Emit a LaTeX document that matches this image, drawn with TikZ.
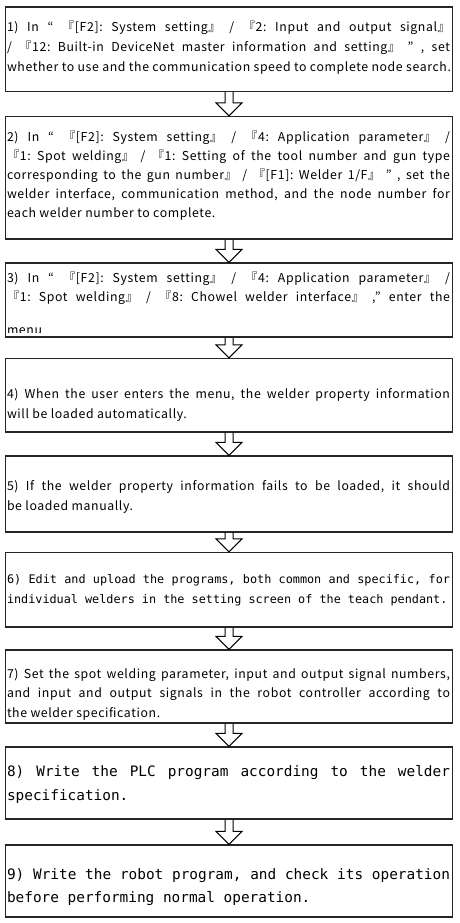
\documentclass[tikz,border=0pt]{standalone}
\usepackage{fontspec}
\usetikzlibrary{calc}
\newfontfamily\gul{Noto Sans CJK KR}[LetterSpace=5]
\newfontfamily\gulche{DejaVu Sans Mono}
\newcommand\J[1]{\hbox to 443pt{#1}}
\newcommand\R[1]{\hbox{#1}}
\newcommand\txtblock[3]{\parbox[t]{443pt}{#1\baselineskip=#2\relax\lineskiplimit=-20pt\relax\spaceskip=\fontdimen2\font plus 1fil\relax\frenchspacing #3}}
\newcommand\propfont{\gul\fontsize{12.3}{20}\selectfont}
\newcommand\monosmall{\gulche\fontsize{11.8}{20}\selectfont}
\newcommand\monobig{\gulche\fontsize{14.4}{24}\selectfont}
\tikzset{
  box/.style={draw=black!85, line width=1.3pt, rectangle, inner sep=0pt, minimum width=447pt},
  txt/.style={anchor=base west, inner sep=0pt, outer sep=0pt, text=black},
  blk/.style={draw=black, line width=1pt, line join=miter}
}
\newcommand\blockarrow[2]{\draw[blk] ($(#1.south)+(-4,0)$) -- ($(#2.north)+(-4,-13)$) -- ($(#2.north)+(-13,-13)$) -- (#2.north) -- ($(#2.north)+(13,-13)$) -- ($(#2.north)+(4,-13)$) -- ($(#1.south)+(4,0)$);}
\begin{document}
\begin{tikzpicture}[x=1pt,y=-1pt]
\useasboundingbox (0,0) rectangle (459,923);
\fill[white] (0,0) rectangle (459,923);
% boxes
\node[box, minimum height=84.5pt]  (b1) at (229,49.25) {};
\node[box, minimum height=122.5pt] (b2) at (229,177.75) {};
\node[box, minimum height=74pt]    (b3) at (229,300) {};
\node[box, minimum height=73.5pt]  (b4) at (229,395.25) {};
\node[box, minimum height=76pt]    (b5) at (229,494) {};
\node[box, minimum height=74.5pt]  (b6) at (229,589.75) {};
\node[box, minimum height=73pt]    (b7) at (229,686.5) {};
\node[box, minimum height=72pt]    (b8) at (229,783) {};
\node[box, minimum height=72pt]    (b9) at (229,881) {};
% texts
\node[txt] (t1) at (7,31.5) {\txtblock{\propfont}{20pt}{%
\J{1) In “ 『[F2]: System setting』 / 『2: Input and output signal』}%
\J{/ 『12: Built-in DeviceNet master information and setting』 ” , set}%
\J{whether to use and the communication speed to complete node search.}}};
\node[txt] (t2) at (7,142) {\txtblock{\propfont}{19pt}{%
\J{2) In “ 『[F2]: System setting』 / 『4: Application parameter』 /}%
\J{『1: Spot welding』 / 『1: Setting of the tool number and gun type}%
\J{corresponding to the gun number』 / 『[F1]: Welder 1/F』 ” , set the}%
\J{welder interface, communication method, and the node number for}%
\R{each welder number to complete.}}};
\node[txt] (t3) at (7,282) {\txtblock{\propfont}{19.5pt}{%
\J{3) In “ 『[F2]: System setting』 / 『4: Application parameter』 /}%
\J{『1: Spot welding』 / 『8: Chowel welder interface』 ,” enter the}}};
\begin{scope}
\clip (5,318) rectangle (453,332);
\node[txt] (t3m) at (7,334) {\propfont menu};
\end{scope}
\node[txt] (t4) at (7,398) {\txtblock{\propfont}{20pt}{%
\J{4) When the user enters the menu, the welder property information}%
\R{will be loaded automatically.}}};
\node[txt] (t5) at (7,490) {\txtblock{\propfont}{20pt}{%
\J{5) If the welder property information fails to be loaded, it should}%
\R{be loaded manually.}}};
\node[txt] (t6) at (7,583) {\txtblock{\monosmall}{20pt}{%
\J{6) Edit and upload the programs, both common and specific, for}%
\R{individual welders in the setting screen of the teach pendant.}}};
\node[txt] (t7) at (7,678) {\txtblock{\propfont}{19.5pt}{%
\J{7) Set the spot welding parameter, input and output signal numbers,}%
\J{and input and output signals in the robot controller according to}%
\R{the welder specification.}}};
\node[txt] (t8) at (7,776) {\txtblock{\monobig}{24pt}{%
\J{8) Write the PLC program according to the welder}%
\R{specification.}}};
\node[txt] (t9) at (7,879) {\txtblock{\monobig}{23pt}{%
\J{9) Write the robot program, and check its operation}%
\R{before performing normal operation.}}};
% arrows
\blockarrow{b1}{b2}
\blockarrow{b2}{b3}
\blockarrow{b3}{b4}
\blockarrow{b4}{b5}
\blockarrow{b5}{b6}
\blockarrow{b6}{b7}
\blockarrow{b7}{b8}
\blockarrow{b8}{b9}
\end{tikzpicture}
\end{document}
